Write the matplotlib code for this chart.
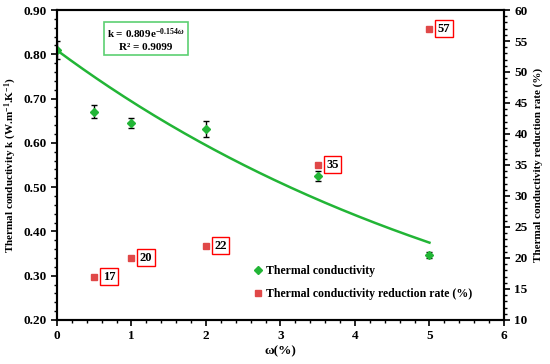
import numpy as np
import matplotlib
matplotlib.use("Agg")
import matplotlib.pyplot as plt
from matplotlib.ticker import MultipleLocator, FormatStrFormatter

plt.rcParams['font.family'] = ['Liberation Serif', 'DejaVu Serif']
plt.rcParams['font.weight'] = 'bold'
plt.rcParams['mathtext.fontset'] = 'custom'
plt.rcParams['mathtext.rm'] = 'Liberation Serif:bold'
plt.rcParams['mathtext.bf'] = 'Liberation Serif:bold'
plt.rcParams['mathtext.it'] = 'Liberation Serif:italic:bold'

omega = [0, 0.5, 1, 2, 3.5, 5]
k_vals = [0.809, 0.670, 0.645, 0.632, 0.525, 0.347]
k_err = [0.020, 0.015, 0.012, 0.018, 0.012, 0.006]
omega_r = [0.5, 1, 2, 3.5, 5]
reduction = [17, 20, 22, 35, 57]
fit_a = 0.809
fit_b = -0.154

green = '#22b536'
red = '#e04848'

fig = plt.figure(figsize=(5.5, 3.64), dpi=100)
ax = fig.add_axes([0.1036, 0.121, 0.8127, 0.8515])
ax2 = ax.twinx()

xf = np.linspace(0, 5, 200)
ax.plot(xf, fit_a * np.exp(fit_b * xf), color=green, lw=1.8, zorder=2)
ax.errorbar(omega, k_vals, yerr=k_err, fmt='none', ecolor='black', elinewidth=1,
            capsize=2, capthick=1, zorder=3)
ax.plot(omega, k_vals, 'D', color=green, ms=4, zorder=4, label='Thermal conductivity')

ax2.plot(omega_r, reduction, 's', color=red, ms=5, zorder=4,
         label='Thermal conductivity reduction rate (%)')
for x, r in zip(omega_r, reduction):
    ax2.annotate(str(r), (x, r), xytext=(6, 0), textcoords='offset points',
                 va='center', ha='left', fontsize=9, fontweight='bold',
                 bbox=dict(boxstyle='square,pad=0.2', fc='white', ec='red', lw=1))

ax.set_xlim(0, 6)
ax.set_ylim(0.2, 0.9)
ax2.set_ylim(10, 60)
ax.xaxis.set_major_locator(MultipleLocator(1))
ax.xaxis.set_minor_locator(MultipleLocator(0.2))
ax.yaxis.set_major_locator(MultipleLocator(0.1))
ax.yaxis.set_minor_locator(MultipleLocator(0.02))
ax.yaxis.set_major_formatter(FormatStrFormatter('%.2f'))
ax2.yaxis.set_major_locator(MultipleLocator(5))
ax2.yaxis.set_minor_locator(MultipleLocator(1))

for a in (ax, ax2):
    a.tick_params(which='major', direction='out', length=4, width=1.2, labelsize=9.5)
    a.tick_params(which='minor', direction='out', length=2, width=1)
    for s in a.spines.values():
        s.set_linewidth(1.5)
for lbl in ax.get_xticklabels() + ax.get_yticklabels() + ax2.get_yticklabels():
    lbl.set_fontweight('bold')

ax.set_xlabel('ω(%)', fontsize=9.5, fontweight='bold', labelpad=2)
ax.set_ylabel('Thermal conductivity k (W.m$^{-1}$.K$^{-1}$)',
              fontsize=8, fontweight='bold', labelpad=3)
ax2.set_ylabel('Thermal conductivity reduction rate (%)', fontsize=8, fontweight='bold',
               labelpad=4)

ax.text(0.199, 0.907, 'k = 0.809e$^{-0.154ω}$\nR² = 0.9099', transform=ax.transAxes,
        ha='center', va='center', fontsize=8, fontweight='bold', linespacing=1.3,
        bbox=dict(boxstyle='square,pad=0.3', fc='white', ec='#5ccf72', lw=1.2))

h1, l1 = ax.get_legend_handles_labels()
h2, l2 = ax2.get_legend_handles_labels()
ax.legend(h1 + h2, l1 + l2, loc='lower left', bbox_to_anchor=(0.412, 0.03), frameon=False,
          handletextpad=0.2, handlelength=1.0, labelspacing=0.9,
          prop={'weight': 'bold', 'size': 8.5})

fig.savefig('out.png', dpi=100)
